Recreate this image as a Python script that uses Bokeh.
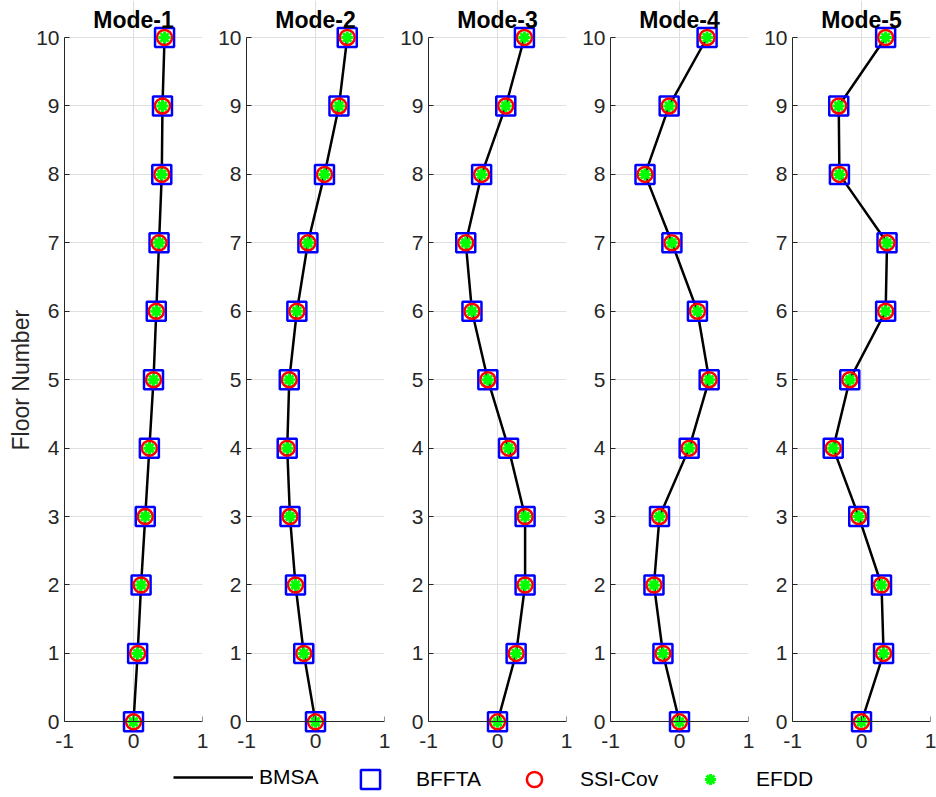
from bokeh.plotting import figure
from bokeh.layouts import row, column
from bokeh.models import (ColumnDataSource, FixedTicker, Legend, LegendItem,
                          Range1d, Label, LinearAxis, Title)
from bokeh.embed import file_html
from bokeh.resources import INLINE

# Normalised mode shapes (floor 0 = base, floor 10 = roof)
floors = [0, 1, 2, 3, 4, 5, 6, 7, 8, 9, 10]
mode_1 = [0.00, 0.06, 0.11, 0.17, 0.23, 0.29, 0.33, 0.37, 0.41, 0.42, 0.45]
mode_2 = [0.00, -0.17, -0.29, -0.37, -0.41, -0.38, -0.27, -0.11, 0.13, 0.34, 0.46]
mode_3 = [0.00, 0.27, 0.40, 0.40, 0.16, -0.14, -0.37, -0.46, -0.23, 0.12, 0.39]
mode_4 = [0.00, -0.24, -0.37, -0.29, 0.14, 0.43, 0.26, -0.11, -0.50, -0.15, 0.40]
mode_5 = [0.00, 0.32, 0.29, -0.04, -0.41, -0.17, 0.35, 0.37, -0.32, -0.33, 0.35]

modes = [mode_1, mode_2, mode_3, mode_4, mode_5]
titles = ["Mode-1", "Mode-2", "Mode-3", "Mode-4", "Mode-5"]
x_ticks = [-1, 0, 1]
y_ticks = floors

FONT = "Liberation Sans"
TEXT = "#262626"
GRID = "#dfdfdf"
PX_PER_FLOOR = 68.4
# the frame reaches up to the top of the page so the titles and the end
# markers are drawn inside it; a small margin below keeps floor-0 markers whole
PAD_TOP, PAD_BOTTOM = 37 / PX_PER_FLOOR, 0.17
FRAME_H = round(PX_PER_FLOOR * (10 + PAD_TOP + PAD_BOTTOM))


def style_axis(ax, show_line=True, show_labels=True):
    ax.axis_line_color = TEXT if show_line else None
    ax.axis_line_width = 1
    ax.major_tick_line_color = TEXT if show_line else None
    ax.major_tick_in = 5
    ax.major_tick_out = 0
    ax.minor_tick_line_color = None
    ax.major_label_text_font = FONT
    ax.major_label_text_font_size = "21px"
    ax.major_label_text_color = TEXT if show_labels else None


figs = []
n = len(modes)
for i, (title, xs) in enumerate(zip(titles, modes)):
    p = figure(
        frame_width=138, frame_height=FRAME_H,
        x_range=Range1d(-1, 1), y_range=Range1d(-PAD_BOTTOM, 10 + PAD_TOP),
        x_axis_location=None,
        output_backend="svg", toolbar_location=None,
        min_border_left=64 if i == 0 else 32,
        min_border_right=12 if i < n - 1 else 6,
        min_border_top=0, min_border_bottom=28,
    )
    p.outline_line_color = None
    p.background_fill_color = "white"

    # x axis line and ticks sit on floor 0; tick labels go in the panel below
    x_line = LinearAxis(ticker=FixedTicker(ticks=x_ticks), fixed_location=0)
    style_axis(x_line, show_labels=False)
    p.add_layout(x_line, "below")
    x_lab = LinearAxis(ticker=FixedTicker(ticks=x_ticks),
                       major_label_overrides={-1: "-1", 0: "0", 1: "1"})
    style_axis(x_lab, show_line=False)
    x_lab.major_label_standoff = 0
    p.add_layout(x_lab, "below")

    p.yaxis.ticker = FixedTicker(ticks=y_ticks)
    p.yaxis.bounds = (0, 10)
    style_axis(p.yaxis[0])
    p.yaxis.major_label_standoff = 5
    if i == 0:
        # vertical label centred on the 0..10 span (the frame runs higher)
        p.add_layout(Title(text="Floor Number", align="left", offset=283,
                           standoff=0, text_font=FONT, text_font_size="23px",
                           text_font_style="normal", text_color=TEXT), "left")

    p.xgrid.ticker = FixedTicker(ticks=x_ticks)
    p.xgrid.bounds = (0, 10)
    p.ygrid.ticker = FixedTicker(ticks=y_ticks)
    p.grid.grid_line_color = GRID
    p.grid.grid_line_width = 1

    src = ColumnDataSource(dict(x=xs, y=floors))
    p.line("x", "y", source=src, line_color="black", line_width=2.5)
    p.scatter("x", "y", source=src, marker="square", size=19,
              fill_color=None, line_color="#0000ff", line_width=2.5)
    p.scatter("x", "y", source=src, marker="circle", size=15,
              fill_color=None, line_color="#ff0000", line_width=2.5)
    p.scatter("x", "y", source=src, marker="asterisk", size=12,
              line_color="#00ff00", line_width=3)

    p.add_layout(Label(x=0, y=10, y_offset=18, text=title,
                       text_align="center", text_baseline="alphabetic",
                       text_font=FONT, text_font_size="23px",
                       text_font_style="bold", text_color="#000000"))
    figs.append(p)

# Legend strip below the panels
leg = figure(width=936, height=36, output_backend="svg", toolbar_location=None,
             x_range=Range1d(0, 1), y_range=Range1d(0, 1),
             min_border=0)
leg.axis.visible = False
leg.grid.visible = False
leg.outline_line_color = None

nan = float("nan")
key_src = ColumnDataSource(dict(x=[nan], y=[nan]))
r_line = leg.line("x", "y", source=key_src, line_color="black", line_width=2.5)
r_sq = leg.scatter("x", "y", source=key_src, marker="square", fill_color=None,
                   line_color="#0000ff", line_width=2.5)
r_ci = leg.scatter("x", "y", source=key_src, marker="circle", fill_color=None,
                   line_color="#ff0000", line_width=2.5)
r_st = leg.scatter("x", "y", source=key_src, marker="asterisk",
                   line_color="#00ff00", line_width=3)

entries = [("BMSA", r_line, 173, 20), ("BFFTA", r_sq, 330, 48),
           ("SSI-Cov", r_ci, 494, 38), ("EFDD", r_st, 670, 28)]
for label, rend, x0, gh in entries:
    lg = Legend(items=[LegendItem(label=label, renderers=[rend])],
                location=(x0, 18 - gh / 2), orientation="horizontal",
                glyph_width=80, glyph_height=gh, label_standoff=6,
                padding=0, margin=0, border_line_color=None,
                background_fill_alpha=0, label_text_font=FONT,
                label_text_font_size="21px", label_text_color="#000000",
                label_height=gh)
    leg.add_layout(lg, "center")

layout = column(row(*figs, spacing=0), leg, spacing=0)

with open("out.html", "w") as f:
    f.write(file_html(layout, INLINE))
